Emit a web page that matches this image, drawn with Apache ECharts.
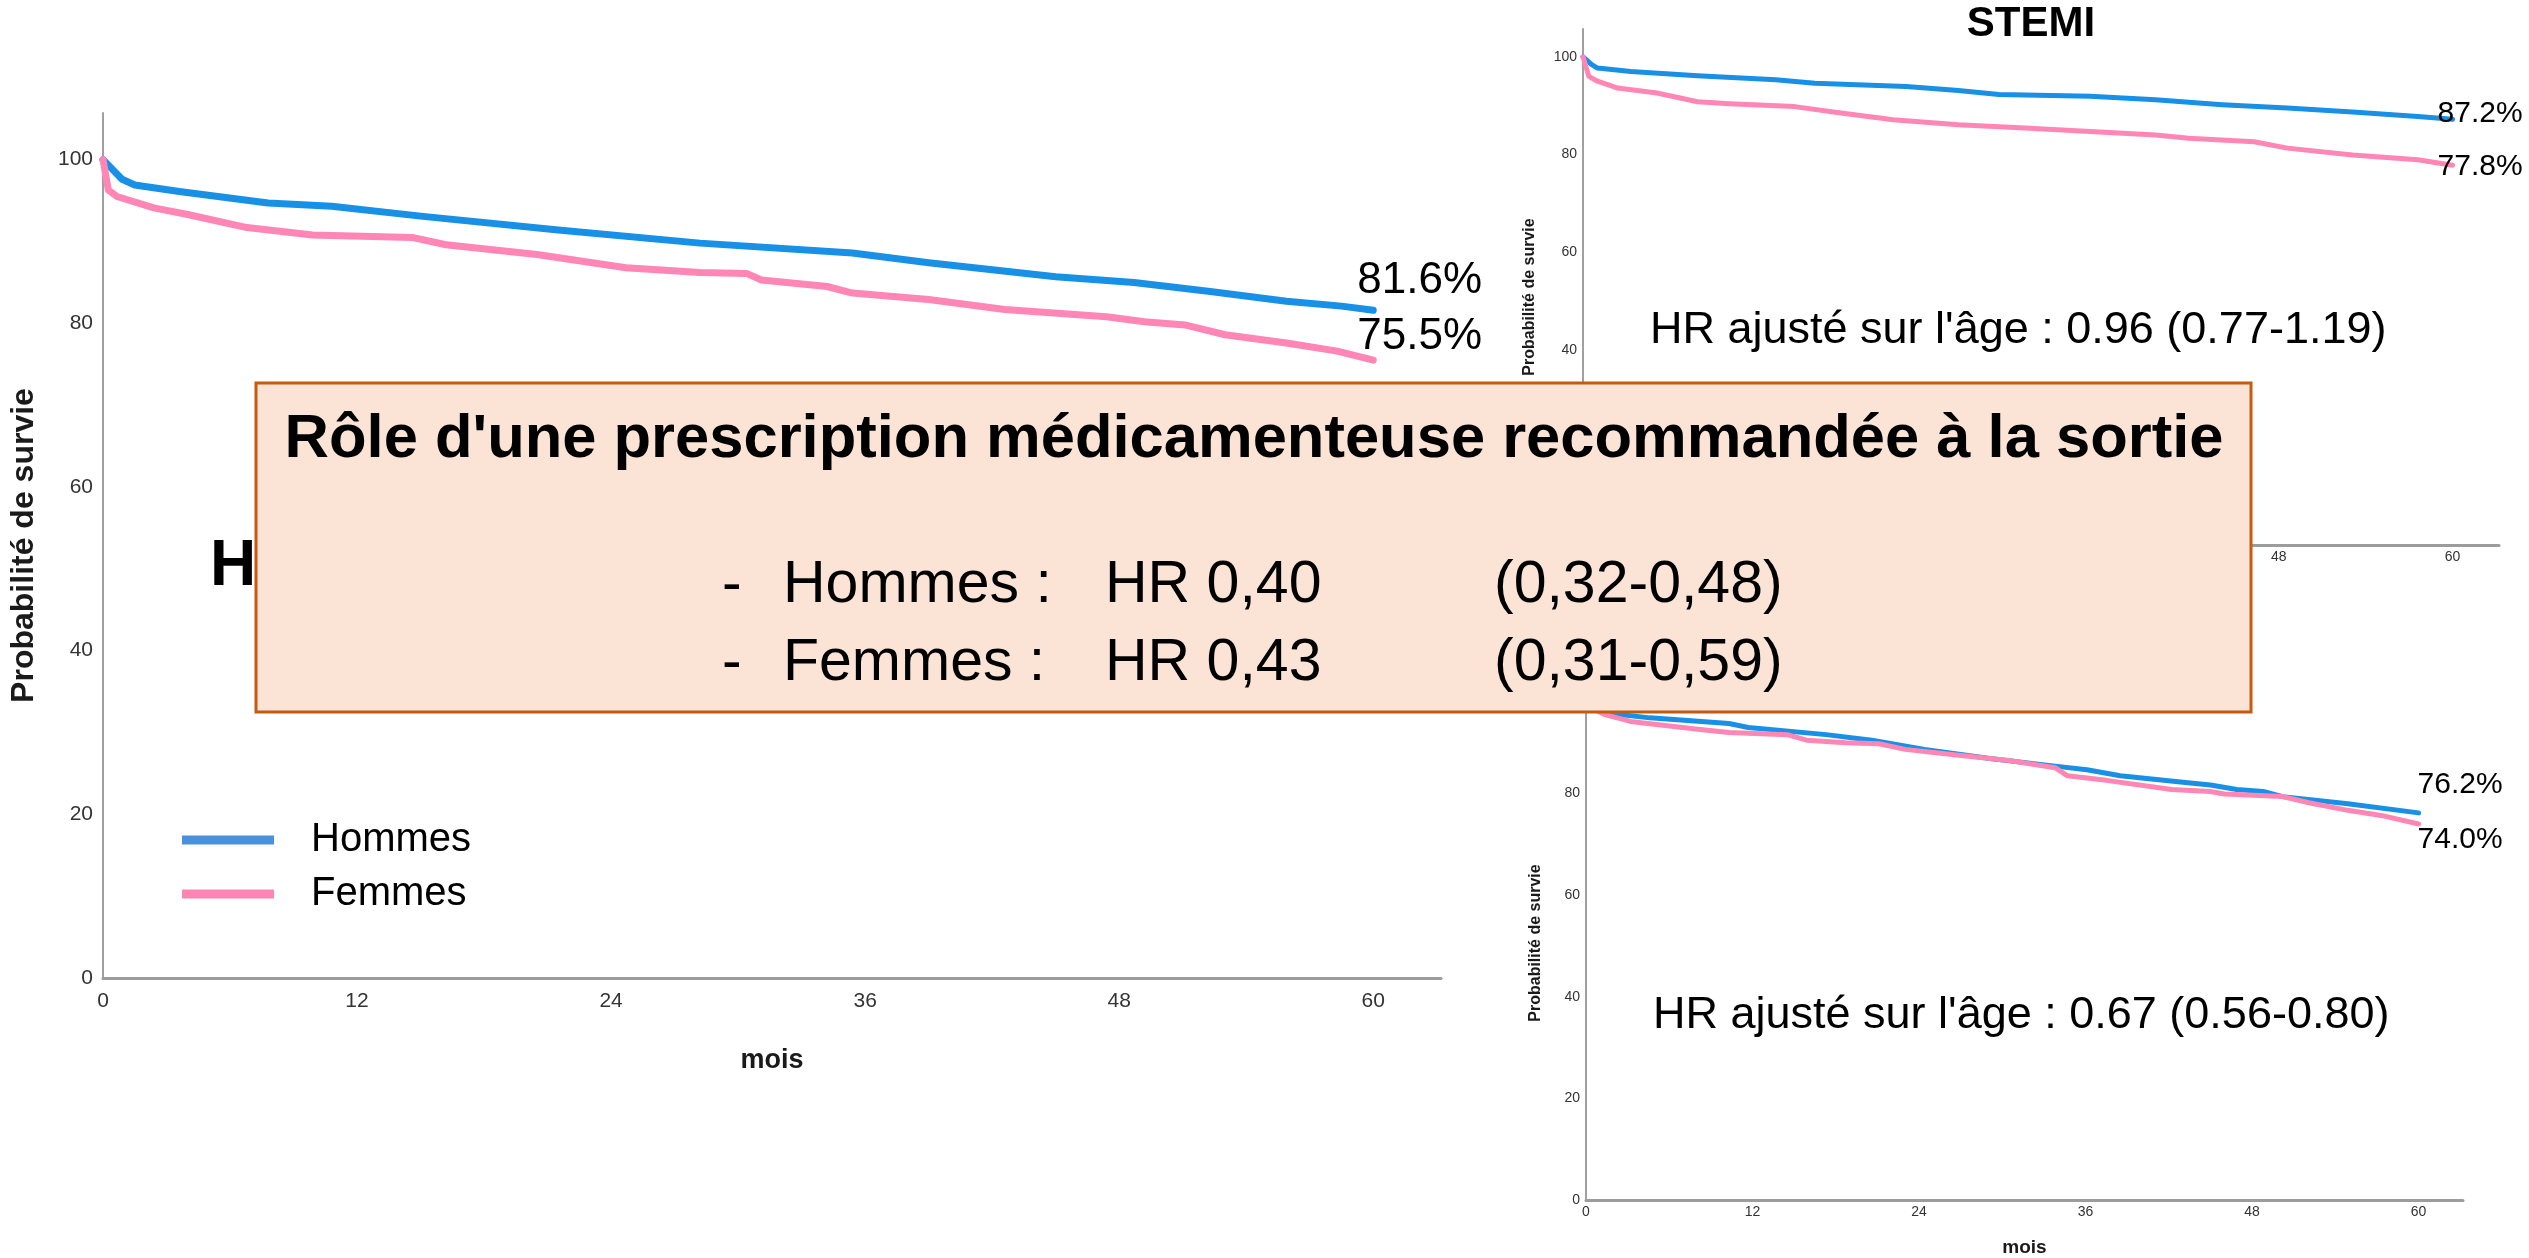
<!DOCTYPE html>
<html>
<head>
<meta charset="utf-8">
<script src="https://cdn.jsdelivr.net/npm/echarts@6/dist/echarts.min.js"></script>
<style>
  html, body { margin: 0; padding: 0; background: #ffffff; }
  #chart { width: 2529px; height: 1258px; }
</style>
</head>
<body>
<div id="chart"></div>
<script>
// Kaplan-Meier survival estimates, [months, survival %]
const toutesHommes = [[0,100],[0.9,97.6],[1.5,96.9],[3.6,96.1],[7.8,94.7],[10.8,94.3],[15,93.1],[21.5,91.4],[28.2,89.8],[35.4,88.6],[39,87.4],[45,85.7],[48.7,85.0],[52.3,83.9],[55.9,82.7],[58.5,82.1],[60,81.6]];
const toutesFemmes = [[0,100],[0.25,96.3],[0.66,95.5],[2.4,94.1],[4,93.3],[6.8,91.7],[9.9,90.8],[14.6,90.5],[16.2,89.6],[20.5,88.4],[24.7,86.8],[28.2,86.2],[30.4,86.1],[31.1,85.3],[34.2,84.5],[35.4,83.7],[39,82.9],[42.6,81.7],[47.4,80.8],[49.2,80.2],[51.1,79.8],[53,78.6],[55.9,77.6],[58.3,76.6],[60,75.5]];

const stemiHommes = [[0,100],[0.6,98.4],[1,97.7],[3.3,97.0],[7.9,96.1],[13.3,95.3],[16,94.6],[22.3,93.9],[25.9,93.1],[28.7,92.3],[35,91.9],[39.5,91.2],[44.1,90.2],[48.6,89.5],[53.1,88.7],[57.6,87.8],[60,87.2]];
const stemiFemmes = [[0,100],[0.4,96],[1,95],[2.4,93.6],[5.1,92.6],[7.9,90.8],[10.1,90.4],[14.6,89.8],[17.8,88.5],[21.4,87.1],[25.9,86.1],[30.5,85.4],[35,84.7],[39.5,84.0],[41.8,83.3],[46.3,82.6],[48.6,81.3],[53.1,79.9],[57.6,78.9],[60,77.8]];

const nstemiHommes = [[0,100],[0.3,97.5],[1.3,95.9],[4.6,94.9],[10.3,93.8],[11.7,93.0],[17.3,91.6],[20.6,90.5],[24.4,88.7],[29.1,86.9],[33.8,85.4],[36.1,84.7],[38.5,83.5],[43.2,82.2],[45,81.7],[46.9,80.8],[48.8,80.4],[50.2,79.4],[54.9,78.0],[60,76.2]];
const nstemiFemmes = [[0,100],[0.3,97],[1.3,95.6],[3.2,94.2],[7.9,92.7],[10.3,92.0],[14.5,91.6],[15.9,90.5],[18.7,90.0],[21.1,89.8],[23,88.7],[26.7,87.6],[30.5,86.5],[33.8,85.1],[34.7,83.5],[37.5,82.6],[42.2,80.8],[45,80.4],[46,79.9],[50.2,79.4],[52.1,78.2],[54.9,76.7],[57.3,75.7],[60,74.0]];

// Axis tick labels
const moisTicks = [0, 12, 24, 36, 48, 60];
const survieTicks = [0, 20, 40, 60, 80, 100];

// Text blocks
const titreEncadre = "Rôle d'une prescription médicamenteuse recommandée à la sortie";
const lignesEncadre = [
  ['-', 'Hommes :', 'HR 0,40', '(0,32-0,48)'],
  ['-', 'Femmes :', 'HR 0,43', '(0,31-0,59)']
];
const hrStemi = "HR ajusté sur l'âge : 0.96 (0.77-1.19)";
const hrNstemi = "HR ajusté sur l'âge : 0.67 (0.56-0.80)";

const BLUE = '#1890e5';
const PINK = '#ff86b5';
const FONT = "'Liberation Sans', Arial, Helvetica, sans-serif";
const NARROW = "'Liberation Sans Narrow', 'Arial Narrow', 'Liberation Sans', sans-serif";

const chart = echarts.init(document.getElementById('chart'), null, { renderer: 'canvas', width: 2529, height: 1258 });

function xAxisFor(gridIndex, big, nameGap) {
  return {
    type: 'value', gridIndex, min: 0, max: 63.2, interval: 12,
    name: 'mois', nameLocation: 'middle', nameGap,
    nameTextStyle: { fontFamily: FONT, fontWeight: 'bold', fontSize: big ? 27 : 19, color: '#1a1a1a' },
    axisLine: { show: true, onZero: false, lineStyle: { color: '#9c9c9c', width: 3 } },
    axisTick: { show: false },
    splitLine: { show: false },
    axisLabel: {
      showMaxLabel: false,
      margin: big ? 13 : 5,
      fontFamily: NARROW, fontSize: big ? 21 : 14, color: '#333',
      formatter: v => moisTicks.includes(v) ? String(v) : ''
    }
  };
}

function yAxisFor(gridIndex, big, nameGap, shift) {
  return {
    type: 'value', gridIndex, min: 0, max: 105.7, interval: 20,
    name: 'Probabilité de survie', nameLocation: 'middle', nameGap,
    nameTextStyle: { fontFamily: FONT, fontWeight: 'bold', fontSize: big ? 32 : 16, color: '#1a1a1a', padding: [0, shift, 0, 0] },
    axisLine: { show: true, lineStyle: { color: '#a0a0a0', width: 2 } },
    axisTick: { show: false },
    splitLine: { show: false },
    axisLabel: {
      showMaxLabel: false,
      margin: big ? 10 : 6,
      fontFamily: NARROW, fontSize: big ? 21 : 14, color: '#333',
      formatter: v => survieTicks.includes(v) ? String(v) : ''
    }
  };
}

function courbe(name, data, idx, color, width, fontSize, offset) {
  return {
    type: 'line', name, data, xAxisIndex: idx, yAxisIndex: idx,
    showSymbol: false, symbol: 'none', silent: true,
    lineStyle: { color, width, cap: 'round', join: 'round' },
    itemStyle: { color },
    endLabel: {
      show: true, distance: 0, offset,
      align: 'left', verticalAlign: 'middle',
      fontFamily: FONT, fontSize, color: '#000',
      formatter: p => p.value[1].toFixed(1) + '%'
    },
    z: 3
  };
}

const textBox = (x, y, text, font, align, z) => ({
  type: 'text', x, y, z,
  style: { text, font, fill: '#000', align: align || 'left', verticalAlign: 'middle' }
});

const encadreTextes = [];
const colX = [722, 783, 1105, 1494];
const ligneY = [586, 664];
lignesEncadre.forEach((ligne, i) => {
  ligne.forEach((t, j) => {
    encadreTextes.push(textBox(colX[j], ligneY[i], t, '59px ' + FONT, 'left', 102));
  });
});

chart.setOption({
  animation: false,
  backgroundColor: '#ffffff',
  grid: [
    { left: 102, top: 113, width: 1339, height: 865 },
    { left: 1583, top: 29, width: 916, height: 516 },
    { left: 1586, top: 663, width: 877, height: 537 }
  ],
  xAxis: [
    xAxisFor(0, true, 69),
    xAxisFor(1, false, 38),
    xAxisFor(2, false, 38)
  ],
  yAxis: [
    yAxisFor(0, true, 63, 0),
    yAxisFor(1, false, 45, 20),
    yAxisFor(2, false, 42, 23)
  ],
  legend: {
    orient: 'vertical', left: 182, top: 820, padding: 0,
    icon: 'rect', itemWidth: 92, itemHeight: 9, itemGap: 14,
    selectedMode: false,
    data: [
      { name: 'Hommes', itemStyle: { color: '#4a90dc' } },
      { name: 'Femmes', itemStyle: { color: '#ff86b4' } }
    ],
    textStyle: { fontFamily: FONT, fontSize: 40, color: '#000', padding: [0, 0, 0, 32] }
  },
  series: [
    courbe('Hommes', toutesHommes, 0, BLUE, 7, 44, [-16, -29]),
    courbe('Femmes', toutesFemmes, 0, PINK, 7, 44, [-16, -23]),
    courbe('Hommes', stemiHommes, 1, BLUE, 5, 30, [-15, -6]),
    courbe('Femmes', stemiFemmes, 1, PINK, 5, 30, [-15, 2]),
    courbe('Hommes', nstemiHommes, 2, BLUE, 5, 30, [-1, -28]),
    courbe('Femmes', nstemiFemmes, 2, PINK, 5, 30, [-1, 16])
  ],
  graphic: [
    textBox(2031, 24, 'STEMI', 'bold 42px ' + FONT, 'center', 10),
    textBox(1650, 331, hrStemi, '45px ' + FONT, 'left', 10),
    textBox(1653, 1016, hrNstemi, '45px ' + FONT, 'left', 10),
    textBox(210, 567, 'H', 'bold 64px ' + FONT, 'left', 10),
    {
      type: 'rect', z: 100,
      shape: { x: 256, y: 383, width: 1995, height: 329 },
      style: { fill: '#fbe3d6', stroke: '#c55a11', lineWidth: 3 }
    },
    textBox(1254, 440, titreEncadre, 'bold 61.5px ' + FONT, 'center', 102)
  ].concat(encadreTextes)
});
</script>
</body>
</html>
